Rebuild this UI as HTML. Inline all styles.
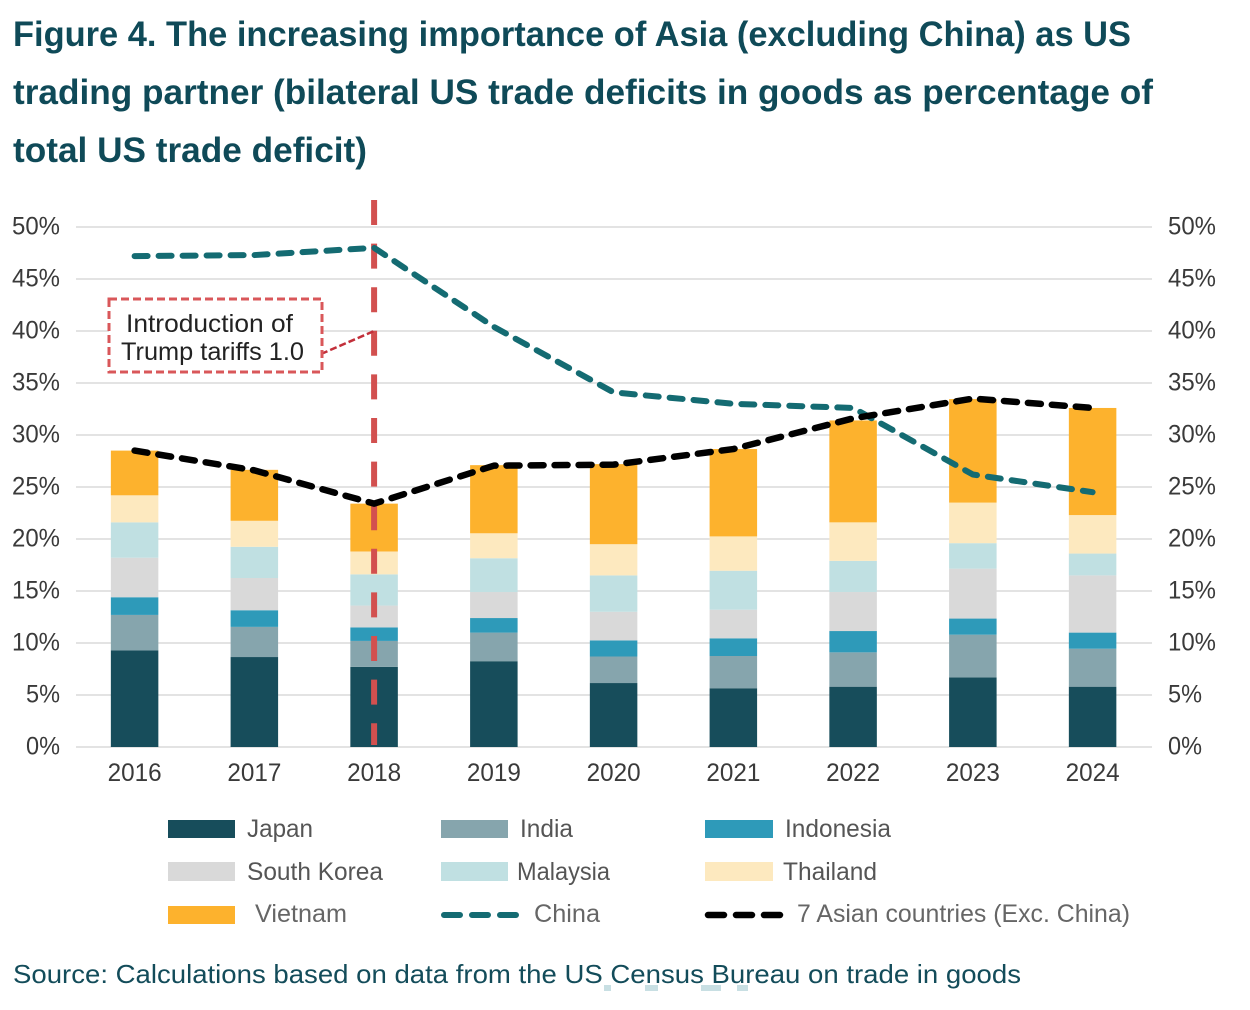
<!DOCTYPE html>
<html lang="en">
<head>
<meta charset="utf-8">
<title>Figure 4. Asia (excluding China) as US trading partner</title>
<style>
html,body{margin:0;padding:0;background:#fff;width:1250px;height:1010px;overflow:hidden}
svg{display:block}
text{font-family:"Liberation Sans",sans-serif}
</style>
</head>
<body>
<svg id="chart" xmlns="http://www.w3.org/2000/svg" width="1250" height="1010" viewBox="0 0 1250 1010">
  <g fill="#0f4a58" font-size="35" font-weight="bold">
    <text x="13" y="46" textLength="1118" lengthAdjust="spacingAndGlyphs">Figure 4. The increasing importance of Asia (excluding China) as US</text>
    <text x="13" y="104" textLength="1140" lengthAdjust="spacingAndGlyphs">trading partner (bilateral US trade deficits in goods as percentage of</text>
    <text x="13" y="162" textLength="354" lengthAdjust="spacingAndGlyphs">total US trade deficit)</text>
  </g>
  <g id="grid"></g>
  <g id="yleft"></g>
  <g id="yright"></g>
  <g id="bars"></g>
  <g id="xaxis"></g>
  <g id="marker"></g>
  <g id="lines"></g>
  <g font-size="25" fill="#555">
    <rect x="168" y="820" width="67" height="18" fill="#174d5b"/>
    <text x="247" y="837" textLength="66" lengthAdjust="spacingAndGlyphs">Japan</text>
    <rect x="441" y="820" width="67" height="18" fill="#86a5ad"/>
    <text x="520" y="837" textLength="53" lengthAdjust="spacingAndGlyphs">India</text>
    <rect x="705" y="820" width="68" height="18" fill="#2e9ab9"/>
    <text x="785" y="837" textLength="106" lengthAdjust="spacingAndGlyphs">Indonesia</text>
    <rect x="168" y="862" width="67" height="19" fill="#d9d9d9"/>
    <text x="247" y="880" textLength="136" lengthAdjust="spacingAndGlyphs">South Korea</text>
    <rect x="441" y="862" width="67" height="19" fill="#c0e0e2"/>
    <text x="517" y="880" textLength="93" lengthAdjust="spacingAndGlyphs">Malaysia</text>
    <rect x="705" y="862" width="68" height="19" fill="#fde9bf"/>
    <text x="783" y="880" textLength="94" lengthAdjust="spacingAndGlyphs">Thailand</text>
    <rect x="168" y="906" width="67" height="18" fill="#fdb22d"/>
    <text x="255" y="922" textLength="92" lengthAdjust="spacingAndGlyphs" fill="#666">Vietnam</text>
    <line x1="444" y1="915" x2="516" y2="915" stroke="#146b72" stroke-width="6" stroke-linecap="round" stroke-dasharray="16 12"/>
    <text x="534" y="922" textLength="66" lengthAdjust="spacingAndGlyphs" fill="#666">China</text>
    <line x1="708" y1="915" x2="780" y2="915" stroke="#000" stroke-width="6.5" stroke-linecap="round" stroke-dasharray="16 12"/>
    <text x="797" y="922" textLength="333" lengthAdjust="spacingAndGlyphs" fill="#666">7 Asian countries (Exc. China)</text>
  </g>
  <text x="13" y="983" font-size="26" fill="#134c5a" textLength="1008" lengthAdjust="spacingAndGlyphs">Source: Calculations based on data from the US Census Bureau on trade in goods</text>
  <g fill="#c8dfe3">
    <rect x="604" y="985" width="7" height="6"/>
    <rect x="645" y="985" width="13" height="6"/>
    <rect x="701" y="985" width="20" height="6"/>
    <rect x="737" y="985" width="11" height="6"/>
  </g>
</svg>
<script>
const years = ['2016','2017','2018','2019','2020','2021','2022','2023','2024'];
const yTicks = [0,5,10,15,20,25,30,35,40,45,50];
const japan = [9.3,8.65,7.7,8.25,6.15,5.65,5.8,6.7,5.8];
const india = [3.4,2.9,2.5,2.75,2.55,3.1,3.3,4.1,3.65];
const indonesia = [1.7,1.6,1.3,1.4,1.55,1.7,2.05,1.55,1.55];
const southKorea = [3.8,3.1,2.1,2.5,2.75,2.75,3.75,4.8,5.5];
const malaysia = [3.4,3.0,3.0,3.25,3.5,3.75,3.0,2.45,2.1];
const thailand = [2.6,2.5,2.2,2.4,3.0,3.3,3.7,3.9,3.7];
const vietnam = [4.3,4.9,4.6,6.55,7.7,8.4,9.8,9.95,10.3];
const china = [47.2,47.3,48.0,40.4,34.1,33.0,32.6,26.2,24.5];
const sevenAsian = [28.5,26.6,23.4,27.05,27.15,28.65,31.6,33.5,32.6];
const tariffYearIndex = 2;
const tariffLabelValue = 40;

const NS = 'http://www.w3.org/2000/svg';
const stacks = [
  {name:'japan', values:japan, color:'#174d5b'},
  {name:'india', values:india, color:'#86a5ad'},
  {name:'indonesia', values:indonesia, color:'#2e9ab9'},
  {name:'south-korea', values:southKorea, color:'#d9d9d9'},
  {name:'malaysia', values:malaysia, color:'#c0e0e2'},
  {name:'thailand', values:thailand, color:'#fde9bf'},
  {name:'vietnam', values:vietnam, color:'#fdb22d'}
];
function xScale(i){ return 134.6 + i * 119.75; }
function yScale(v){ return 747 - v * 10.4; }
function make(tag, attrs, parent){
  const el = document.createElementNS(NS, tag);
  for (const k in attrs) el.setAttribute(k, attrs[k]);
  parent.appendChild(el);
  return el;
}
const grid = document.getElementById('grid');
const yleft = document.getElementById('yleft');
const yright = document.getElementById('yright');
yTicks.forEach(function(t){
  const y = yScale(t);
  const line = make('line', {x1:76, x2:1152, y1:y, y2:y, stroke:'#e3e3e3', 'stroke-width':2}, grid);
  
  
  const w = t < 10 ? 34 : 48;
  const a = make('text', {x:60 - w, y:y + 7.5, 'font-size':25, fill:'#3a3a3a', textLength:w, lengthAdjust:'spacingAndGlyphs'}, yleft);
  a.textContent = t + '%';
  
  
  const b = make('text', {x:1168, y:y + 7.5, 'font-size':25, fill:'#3a3a3a', textLength:w, lengthAdjust:'spacingAndGlyphs'}, yright);
  b.textContent = t + '%';
  
  
});
const barsG = document.getElementById('bars');
const xaxis = document.getElementById('xaxis');
years.forEach(function(year, i){
  let base = 0;
  stacks.forEach(function(s){
    const top = base + s.values[i];
    const r = make('rect', {x:xScale(i) - 23.75, y:yScale(top), width:47.5, height:yScale(base) - yScale(top), fill:s.color}, barsG);
    
    
    base = top;
  });
  const l = make('text', {x:xScale(i), y:781, 'font-size':25, fill:'#3a3a3a', 'text-anchor':'middle', textLength:54, lengthAdjust:'spacingAndGlyphs'}, xaxis);
  l.textContent = year;
  
  
});
const marker = document.getElementById('marker');
const mx = xScale(tariffYearIndex);
const mLine = make('line', {x1:mx, x2:mx, y1:200, y2:745, stroke:'#d2504f', 'stroke-width':6, 'stroke-dasharray':'25 18.6'}, marker);


const conn = make('line', {x1:321, y1:354, x2:mx, y2:yScale(tariffLabelValue), stroke:'#c22f3a', 'stroke-width':2.5, 'stroke-dasharray':'7 3'}, marker);


const box = make('rect', {x:109, y:299, width:213, height:73, fill:'#fff', stroke:'#d9575a', 'stroke-width':3, 'stroke-dasharray':'8 4'}, marker);


const t1 = make('text', {x:126, y:332, 'font-size':25, fill:'#222', textLength:167, lengthAdjust:'spacingAndGlyphs'}, marker);
t1.textContent = 'Introduction of';


const t2 = make('text', {x:121, y:360, 'font-size':25, fill:'#222', textLength:183, lengthAdjust:'spacingAndGlyphs'}, marker);
t2.textContent = 'Trump tariffs 1.0';


const linesG = document.getElementById('lines');
function pts(values){ return values.map(function(v, i){ return xScale(i) + ',' + yScale(v); }).join(' '); }
const chinaLine = make('polyline', {points:pts(china), fill:'none', stroke:'#146b72', 'stroke-width':6, 'stroke-linecap':'round', 'stroke-linejoin':'round', 'stroke-dasharray':'13 11'}, linesG);


const sevenLine = make('polyline', {points:pts(sevenAsian), fill:'none', stroke:'#000', 'stroke-width':6.5, 'stroke-linecap':'round', 'stroke-linejoin':'round', 'stroke-dasharray':'13 11'}, linesG);


</script>
</body>
</html>
